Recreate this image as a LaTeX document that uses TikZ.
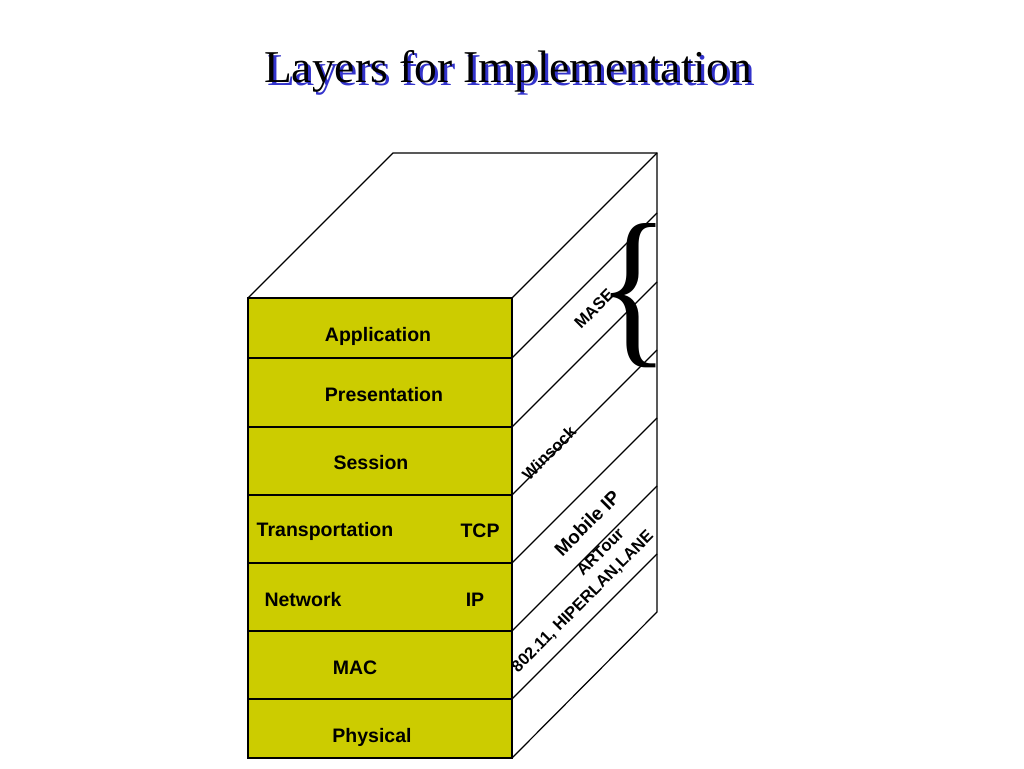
\documentclass[tikz,border=0pt]{standalone}
\usepackage{fontspec}
\setmainfont{Liberation Serif}
\setsansfont{Liberation Sans}
\usepackage{graphicx}
\usetikzlibrary{positioning}
\definecolor{layerfill}{HTML}{CCCC00}
\definecolor{titleblue}{HTML}{3333CC}
\tikzset{
  edge/.style={draw=black,line width=1.2pt},
  layerbox/.style={draw=black,line width=1.2pt,fill=layerfill,
    minimum width=264pt,inner sep=0pt,outer sep=0pt},
  layertext/.style={font=\sffamily\bfseries\fontsize{19.5}{22}\selectfont,inner sep=0pt},
  sidetext/.style={font=\sffamily\bfseries\fontsize{16.5}{19}\selectfont,
    rotate=45,inner sep=0pt},
  titletext/.style={font=\fontsize{45.5}{50}\selectfont,inner sep=0pt,anchor=base}
}
\begin{document}
\begin{tikzpicture}[x=1pt,y=-1pt]
  \useasboundingbox (0,0) rectangle (1024,768);
  % title with its shadow
  \node[titletext,text=titleblue] (titleshadow) at (511,85) {Layers for Implementation};
  \node[titletext] (title) at (508,82) {Layers for Implementation};
  % front face
  \node[layerbox,minimum height=60pt,anchor=north west] (app) at (248,298) {};
  \node[layerbox,minimum height=69pt,below=0pt of app] (pres) {};
  \node[layerbox,minimum height=68pt,below=0pt of pres] (sess) {};
  \node[layerbox,minimum height=68pt,below=0pt of sess] (trans) {};
  \node[layerbox,minimum height=68pt,below=0pt of trans] (net) {};
  \node[layerbox,minimum height=68pt,below=0pt of net] (mac) {};
  \node[layerbox,minimum height=59pt,below=0pt of mac] (phys) {};
  % top and side faces
  \draw[edge] (app.north west) -- ++(145,-145) coordinate (backtl)
    -- ++(264,0) coordinate (backtr) -- ++(0,459) coordinate (backbr)
    -- (phys.south east);
  \draw[edge] (app.north east) -- (backtr);
  \foreach \n in {app,pres,sess,trans,net,mac}
    \draw[edge] (\n.south east) -- ++(145,-145);
  % layer names
  \node[layertext] (lblapp) at (378,336) {Application};
  \node[layertext] (lblpres) at (384,395) {Presentation};
  \node[layertext] (lblsess) at (371,463) {Session};
  \node[layertext] (lbltrans) at (325,531) {Transportation};
  \node[layertext] (lbltcp) at (480,531) {TCP};
  \node[layertext] (lblnet) at (303,600) {Network};
  \node[layertext] (lblip) at (475,600) {IP};
  \node[layertext] (lblmac) at (355,668) {MAC};
  \node[layertext] (lblphys) at (372,737) {Physical};
  % implementations on the side
  \node[sidetext] (mase) at (594,309) {MASE};
  \node[sidetext] (winsock) at (549,453) {Winsock};
  \node[sidetext,font=\sffamily\bfseries\fontsize{19}{22}\selectfont] (mobileip) at (587,523) {Mobile IP};
  \node[sidetext] (artour) at (600,552) {ARTour};
  \node[sidetext] (wlan) at (583,602) {802.11, HIPERLAN,LANE};
  \node[inner sep=0pt,anchor=east] (brace) at (670,296) {\resizebox{72pt}{121pt}{\{}};
\end{tikzpicture}
\end{document}
